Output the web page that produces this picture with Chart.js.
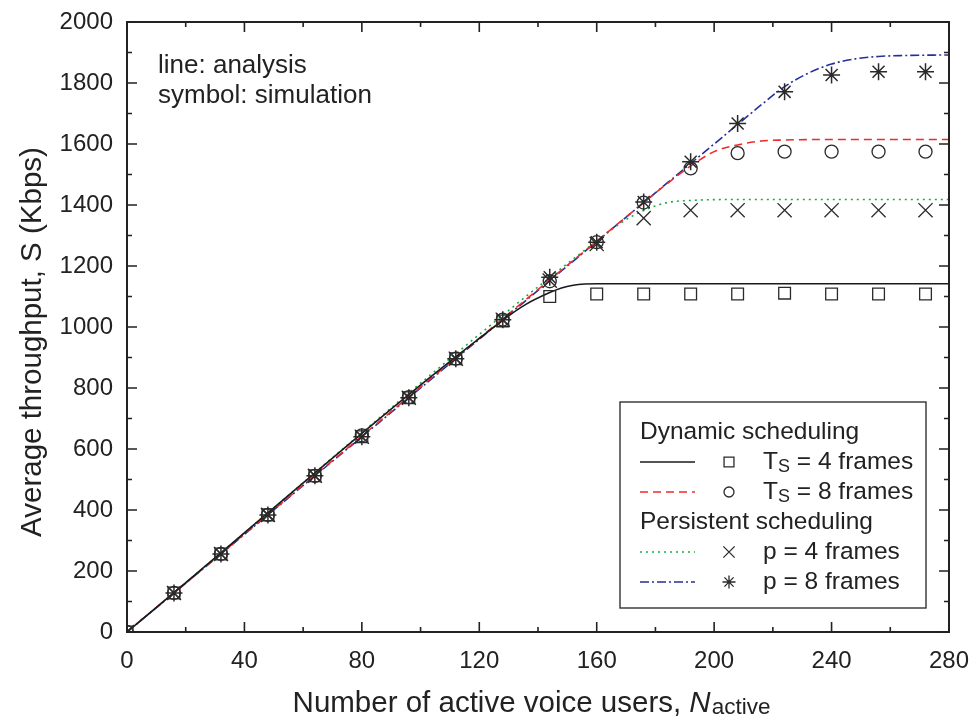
<!DOCTYPE html>
<html>
<head>
<meta charset="utf-8">
<script src="https://cdn.jsdelivr.net/npm/chart.js@4"></script>
<style>
  html, body { margin: 0; padding: 0; background: #fff; }
  canvas { display: block; }
</style>
</head>
<body>
<canvas id="c" width="973" height="723"></canvas>
<script>
// ---- Data ----
const simX   = [0, 16, 32, 48, 64, 80, 96, 112, 128, 144, 160, 176, 192, 208, 224, 240, 256, 272];
const simTs4 = [0, 128, 256, 384, 512, 640, 768, 896, 1020, 1100, 1108, 1108, 1108, 1108, 1111, 1108, 1108, 1108];
const simTs8 = [0, 128, 256, 384, 512, 645, 770, 896, 1024, 1150, 1278, 1408, 1520, 1570, 1575, 1575, 1575, 1575];
const simP4  = [0, 128, 256, 384, 512, 640, 768, 896, 1024, 1152, 1272, 1357, 1383, 1383, 1383, 1383, 1383, 1383];
const simP8  = [0, 128, 256, 384, 512, 640, 768, 896, 1024, 1163, 1278, 1410, 1542, 1667, 1771, 1826, 1837, 1837];

const anaTs4X = [0, 128, 136, 144, 148, 152, 156, 160, 280];
const anaTs4Y = [0, 1022, 1075, 1113, 1128, 1137, 1141, 1142, 1142];
const anaTs8X = [0, 176, 184, 192, 200, 208, 216, 224, 240, 280];
const anaTs8Y = [0, 1408, 1470, 1528, 1575, 1597, 1610, 1613, 1615, 1615];
const anaP4X  = [0, 164, 170, 176, 184, 192, 208, 280];
const anaP4Y  = [0, 1312, 1352, 1382, 1408, 1415, 1418, 1418];
const anaP8X  = [0, 208, 216, 224, 232, 240, 248, 256, 264, 280];
const anaP8Y  = [0, 1664, 1728, 1788, 1832, 1862, 1879, 1887, 1890, 1892];

const xTicks = [0, 40, 80, 120, 160, 200, 240, 280];
const yTicks = [0, 200, 400, 600, 800, 1000, 1200, 1400, 1600, 1800, 2000];

// ---- Styles ----
const FONT = '"Liberation Sans", Arial, Helvetica, sans-serif';
const C_BLACK = '#1a1a1a', C_RED = '#ee2b2b', C_GREEN = '#1eaa48', C_BLUE = '#22309a';
const MK = '#2a2a2a';
const DASH_RED = [8, 5], DASH_GREEN = [2, 4], DASH_BLUE = [9, 3, 2, 3];

function pts(xs, ys) { return xs.map((x, i) => ({ x: x, y: ys[i] })); }

function lineDs(label, xs, ys, color, dash) {
  return { type: 'line', label, data: pts(xs, ys), borderColor: color, borderWidth: 1.6,
    borderDash: dash, pointRadius: 0, fill: false, cubicInterpolationMode: 'monotone', order: 2 };
}
function symDs(label, ys, style, r, bw) {
  return { type: 'scatter', label, data: pts(simX, ys), showLine: false, pointStyle: style,
    pointRadius: r, pointHoverRadius: r, borderColor: MK, backgroundColor: 'rgba(0,0,0,0)',
    pointBorderWidth: bw, borderWidth: bw, order: 1 };
}

function drawMarker(ctx, style, x, y, r) {
  ctx.save();
  ctx.strokeStyle = MK; ctx.lineWidth = 1.3; ctx.beginPath();
  if (style === 'rect') { const s = r * Math.SQRT1_2; ctx.rect(x - s, y - s, 2 * s, 2 * s); }
  else if (style === 'circle') { ctx.arc(x, y, r, 0, Math.PI * 2); }
  else if (style === 'crossRot') { const o = r * Math.SQRT1_2;
    ctx.moveTo(x - o, y - o); ctx.lineTo(x + o, y + o); ctx.moveTo(x - o, y + o); ctx.lineTo(x + o, y - o); }
  else if (style === 'star') { const o = r * Math.SQRT1_2;
    ctx.moveTo(x - r, y); ctx.lineTo(x + r, y); ctx.moveTo(x, y - r); ctx.lineTo(x, y + r);
    ctx.moveTo(x - o, y - o); ctx.lineTo(x + o, y + o); ctx.moveTo(x - o, y + o); ctx.lineTo(x + o, y - o); }
  ctx.stroke(); ctx.restore();
}

const decor = {
  id: 'decor',
  afterDraw(chart) {
    const ctx = chart.ctx, xs = chart.scales.x, ys = chart.scales.y, a = chart.chartArea;
    ctx.save();
    // frame
    ctx.strokeStyle = '#222'; ctx.lineWidth = 2;
    ctx.strokeRect(a.left, a.top, a.right - a.left, a.bottom - a.top);
    // ticks inward on all sides
    ctx.lineWidth = 1.6; ctx.beginPath();
    for (let v = 0; v <= 280; v += 20) {
      const px = xs.getPixelForValue(v), L = (v % 40 === 0) ? 10 : 5;
      ctx.moveTo(px, a.bottom); ctx.lineTo(px, a.bottom - L);
      ctx.moveTo(px, a.top); ctx.lineTo(px, a.top + L);
    }
    for (let v = 0; v <= 2000; v += 100) {
      const py = ys.getPixelForValue(v), L = (v % 200 === 0) ? 10 : 5;
      ctx.moveTo(a.left, py); ctx.lineTo(a.left + L, py);
      ctx.moveTo(a.right, py); ctx.lineTo(a.right - L, py);
    }
    ctx.stroke();

    // annotation text
    ctx.fillStyle = '#222'; ctx.textBaseline = 'middle'; ctx.textAlign = 'left';
    ctx.font = '26px ' + FONT;
    ctx.fillText('line: analysis', 158, 66);
    ctx.fillText('symbol: simulation', 158, 96);

    // y title
    ctx.save();
    ctx.translate(33, 342); ctx.rotate(-Math.PI / 2);
    ctx.textAlign = 'center'; ctx.font = '29.5px ' + FONT;
    ctx.fillText('Average throughput, S (Kbps)', 0, 0);
    ctx.restore();

    // x title
    ctx.textBaseline = 'alphabetic';
    const t1 = 'Number of active voice users, ';
    ctx.font = '29.5px ' + FONT; const w1 = ctx.measureText(t1).width;
    ctx.font = 'italic 29.5px ' + FONT; const w2 = ctx.measureText('N').width;
    ctx.font = '22.5px ' + FONT; const w3 = ctx.measureText('active').width;
    let x0 = 531 - (w1 + w2 + w3) / 2;
    ctx.font = '29.5px ' + FONT; ctx.fillText(t1, x0, 712);
    ctx.font = 'italic 29.5px ' + FONT; ctx.fillText('N', x0 + w1, 712);
    ctx.font = '22.5px ' + FONT; ctx.fillText('active', x0 + w1 + w2 + 1, 714);

    // legend box
    ctx.fillStyle = '#fff'; ctx.fillRect(620, 402, 306, 206);
    ctx.strokeStyle = '#333'; ctx.lineWidth = 1.4; ctx.strokeRect(620, 402, 306, 206);
    ctx.fillStyle = '#222'; ctx.textBaseline = 'middle';
    ctx.font = '24.5px ' + FONT;
    ctx.fillText('Dynamic scheduling', 640, 432);
    ctx.fillText('Persistent scheduling', 640, 522);
    const rows = [
      { y: 462, color: C_BLACK, dash: [], mk: 'rect', r: 7, sub: true, txt: ' = 4 frames' },
      { y: 492, color: C_RED, dash: DASH_RED, mk: 'circle', r: 5, sub: true, txt: ' = 8 frames' },
      { y: 552, color: C_GREEN, dash: DASH_GREEN, mk: 'crossRot', r: 8, sub: false, txt: 'p = 4 frames' },
      { y: 582, color: C_BLUE, dash: DASH_BLUE, mk: 'star', r: 6.5, sub: false, txt: 'p = 8 frames' }
    ];
    rows.forEach(r => {
      ctx.save();
      ctx.strokeStyle = r.color; ctx.lineWidth = 1.6; ctx.setLineDash(r.dash);
      ctx.beginPath(); ctx.moveTo(640, r.y); ctx.lineTo(695, r.y); ctx.stroke();
      ctx.restore();
      drawMarker(ctx, r.mk, 729, r.y, r.r);
      ctx.fillStyle = '#222';
      let tx = 763;
      if (r.sub) {
        ctx.font = '24.5px ' + FONT; ctx.fillText('T', tx, r.y); tx += ctx.measureText('T').width;
        ctx.font = '18px ' + FONT; ctx.fillText('S', tx, r.y + 5); tx += ctx.measureText('S').width;
      }
      ctx.font = '24.5px ' + FONT; ctx.fillText(r.txt, tx, r.y);
    });
    ctx.restore();
  }
};

new Chart(document.getElementById('c'), {
  data: {
    datasets: [
      lineDs('Ts = 4 frames (analysis)', anaTs4X, anaTs4Y, C_BLACK, []),
      lineDs('Ts = 8 frames (analysis)', anaTs8X, anaTs8Y, C_RED, DASH_RED),
      lineDs('p = 4 frames (analysis)', anaP4X, anaP4Y, C_GREEN, DASH_GREEN),
      lineDs('p = 8 frames (analysis)', anaP8X, anaP8Y, C_BLUE, DASH_BLUE),
      symDs('Ts = 4 frames (simulation)', simTs4, 'rect', 8.3, 1.3),
      symDs('Ts = 8 frames (simulation)', simTs8, 'circle', 6.5, 1.3),
      symDs('p = 4 frames (simulation)', simP4, 'crossRot', 10, 1.3),
      symDs('p = 8 frames (simulation)', simP8, 'star', 8.5, 1.5)
    ]
  },
  options: {
    responsive: false, animation: false, devicePixelRatio: 1,
    layout: { padding: { top: 22, right: 24, left: 0, bottom: 0 } },
    plugins: { legend: { display: false }, tooltip: { enabled: false } },
    scales: {
      x: {
        type: 'linear', min: 0, max: 280,
        afterBuildTicks: s => { s.ticks = xTicks.map(v => ({ value: v })); },
        afterFit: s => { s.height = 91; s.paddingLeft = 0; s.paddingRight = 0; },
        ticks: { font: { size: 24, family: FONT }, color: '#222', padding: 15, maxRotation: 0,
                 callback: v => String(v) },
        grid: { display: false, drawTicks: false }, border: { display: false }
      },
      y: {
        type: 'linear', min: 0, max: 2000,
        afterBuildTicks: s => { s.ticks = yTicks.map(v => ({ value: v })); },
        afterFit: s => { s.width = 127; s.paddingTop = 0; s.paddingBottom = 0; },
        ticks: { font: { size: 24, family: FONT }, color: '#222', padding: 14,
                 callback: v => String(v) },
        grid: { display: false, drawTicks: false }, border: { display: false }
      }
    }
  },
  plugins: [decor]
});
</script>
</body>
</html>
